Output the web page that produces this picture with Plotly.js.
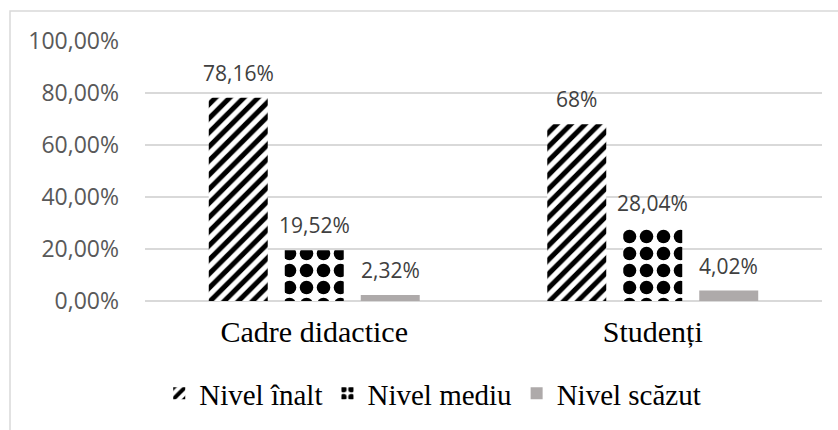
<!DOCTYPE html>
<html><head><meta charset="utf-8">
<script src="https://cdn.plot.ly/plotly-3.0.1.min.js"></script>
<style>html,body{margin:0;padding:0;background:#fff}#chart{width:838px;height:430px}</style>
</head><body><div id="chart"></div>
<script>
const categories = ["Cadre didactice", "Studenți"];
const seriesNames = ["Nivel înalt", "Nivel mediu", "Nivel scăzut"];
const nivelInalt = [78.16, 68];
const nivelMediu = [19.52, 28.04];
const nivelScazut = [2.32, 4.02];
const labelsInalt = ["78,16%", "68%"];
const labelsMediu = ["19,52%", "28,04%"];
const labelsScazut = ["2,32%", "4,02%"];
const yTickVals = [0, 20, 40, 60, 80, 100];
const yTickText = ["0,00%", "20,00%", "40,00%", "60,00%", "80,00%", "100,00%"];

const values = [nivelInalt, nivelMediu, nivelScazut];
const labels = [labelsInalt, labelsMediu, labelsScazut];
const bargap = 0.3265, bargroupgap = 0.224;
const slot = (1 - bargap) / 3;

const patterns = [
  {shape: "/", fgcolor: "#000000", bgcolor: "#ffffff", fgopacity: 1, size: 10, solidity: 0.5, fillmode: "replace"},
  {shape: ".", fgcolor: "#000000", bgcolor: "#ffffff", fgopacity: 1, size: 17, solidity: 0.5, fillmode: "replace"},
  null
];

const traces = seriesNames.map((n, i) => {
  const m = {color: i === 2 ? "#aeaaaa" : "#000000", line: {width: 0}};
  if (patterns[i]) m.pattern = patterns[i];
  return {type: "bar", name: n, x: categories, y: values[i], marker: m, hoverinfo: "none"};
});

const annotations = [];
values.forEach((vals, i) => {
  vals.forEach((v, c) => {
    annotations.push({
      xref: "x", yref: "y", x: c + (i - 1) * slot, y: v, yshift: 25,
      text: labels[i][c], showarrow: false, xanchor: "center", yanchor: "middle",
      font: {family: "Open Sans", size: 21, color: "#404040"}
    });
  });
});

const layout = {
  width: 838, height: 430,
  margin: {l: 145, r: 16, t: 41, b: 128},
  paper_bgcolor: "#fff", plot_bgcolor: "#fff",
  barmode: "group", bargap: bargap, bargroupgap: bargroupgap,
  showlegend: true,
  legend: {orientation: "h", x: 0.425, xanchor: "center", y: -0.35, yanchor: "middle",
    font: {family: "Liberation Serif", size: 29, color: "#000"}, traceorder: "normal"},
  xaxis: {type: "category", showgrid: false, showline: false, ticks: "",
    tickfont: {family: "Liberation Serif", size: 30, color: "#000"}, ticklabelstandoff: 10},
  yaxis: {range: [0, 100], tickvals: yTickVals, ticktext: yTickText, showgrid: true,
    gridcolor: "#d9d9d9", gridwidth: 1.5, zeroline: true, zerolinecolor: "#d9d9d9", zerolinewidth: 1.5,
    showline: false, ticks: "", tickfont: {family: "Open Sans", size: 23, color: "#595959"}, ticklabelstandoff: 25},
  annotations: annotations,
  shapes: [{type: "rect", xref: "paper", yref: "paper", x0: -0.1994, x1: 1.3, y0: -1, y1: 1.115,
    line: {color: "#d9d9d9", width: 1.5}, fillcolor: "rgba(0,0,0,0)", layer: "below"}]
};

Plotly.newPlot("chart", traces, layout, {staticPlot: true, displayModeBar: false});
</script></body></html>
